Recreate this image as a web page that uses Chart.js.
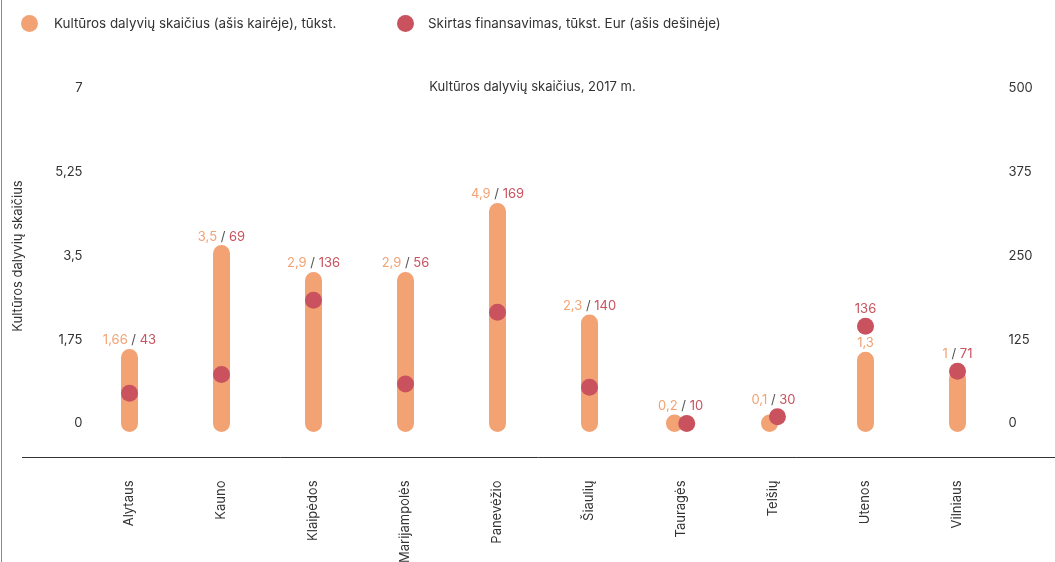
<!DOCTYPE html>
<html>
<head>
<meta charset="utf-8">
<script src="https://cdn.jsdelivr.net/npm/chart.js@4.4.1/dist/chart.umd.min.js"></script>
<style>
html,body{margin:0;padding:0;background:#ffffff;}
#wrap{position:relative;width:1055px;height:562px;}
</style>
</head>
<body>
<div id="wrap"><canvas id="c" width="1055" height="562"></canvas></div>
<script>
// ---- data ----
const categories = ['Alytaus','Kauno','Klaipėdos','Marijampolės','Panevėžio','Šiaulių','Tauragės','Telšių','Utenos','Vilniaus'];
// bar heights as drawn (thousand participants, left axis)
const participants = [1.38, 3.55, 2.99, 2.99, 4.43, 2.10, 0.01, 0.01, 1.32, 0.94];
// dot positions as drawn (thousand EUR, right axis)
const funding = [45, 73, 184, 59, 166, 54, 0, 10, 145, 78];
// printed value labels
const participantLabels = ['1,66','3,5','2,9','2,9','4,9','2,3','0,2','0,1','1,3','1'];
const fundingLabels = ['43','69','136','56','169','140','10','30','136','71'];
// axis ticks
const leftTicks = [0, 1.75, 3.5, 5.25, 7];
const rightTicks = [0, 125, 250, 375, 500];
// small horizontal dodge (in category units) where bar and dot overlap
const participantShift = [0,0,0,0,0,0,-0.076,-0.043,0,0];
const fundingShift = [0,0,0,0,0,0,0.057,0.043,0,0];

const seriesNames = ['Kultūros dalyvių skaičius (ašis kairėje), tūkst.', 'Skirtas finansavimas, tūkst. Eur (ašis dešinėje)'];
const chartTitle = 'Kultūros dalyvių skaičius, 2017 m.';
const leftAxisTitle = 'Kultūros dalyvių skaičius';

const ORANGE = '#F2A273';
const RED = '#C9525E';
const TEXT = '#333333';
const FONT = 'Inter';
const BAR_W = 17;
const DOT_R = 8.5;

Chart.defaults.font.family = FONT;
Chart.defaults.font.size = 13;
Chart.defaults.color = TEXT;

const barPoints = [];
participants.forEach((v, i) => {
  const x = i + participantShift[i];
  barPoints.push({x: x, y: 0}, {x: x, y: v}, {x: x, y: null});
});
const dotPoints = funding.map((v, i) => ({x: i + fundingShift[i], y: v}));

const fmt = v => String(v).replace('.', ',');

const decor = {
  id: 'decor',
  beforeDraw(chart) {
    const ctx = chart.ctx;
    ctx.save();
    ctx.fillStyle = '#8a8a8a';
    ctx.fillRect(1, 0, 1, chart.height);
    ctx.restore();
  },
  afterDatasetsDraw(chart) {
    const ctx = chart.ctx;
    const xs = chart.scales.xv, ys = chart.scales.y, ys1 = chart.scales.y1;
    ctx.save();
    ctx.font = '13px ' + FONT;
    ctx.textBaseline = 'middle';
    ctx.textAlign = 'left';
    const gap = 8.5;
    const drawParts = (parts, cx, cy) => {
      const widths = parts.map(p => ctx.measureText(p[0]).width);
      const total = widths.reduce((a, b) => a + b, 0);
      let x = cx - total / 2;
      parts.forEach((p, k) => { ctx.fillStyle = p[1]; ctx.fillText(p[0], x, cy); x += widths[k]; });
    };
    categories.forEach((c, i) => {
      const bx = xs.getPixelForValue(i + participantShift[i]);
      const dx = xs.getPixelForValue(i + fundingShift[i]);
      const barTop = ys.getPixelForValue(participants[i]) - BAR_W / 2;
      const dy = ys1.getPixelForValue(funding[i]);
      const dotTop = dy - DOT_R, dotBottom = dy + DOT_R;
      if (dotBottom < barTop - 4) {
        drawParts([[fundingLabels[i], RED]], dx, dotTop - gap);
        drawParts([[participantLabels[i], ORANGE]], bx, barTop - gap);
      } else {
        const top = Math.min(barTop, dotTop);
        drawParts([[participantLabels[i], ORANGE], [' / ', '#555555'], [fundingLabels[i], RED]], (bx + dx) / 2, top - gap);
      }
    });
    ctx.restore();
  },
  afterDraw(chart) {
    const ctx = chart.ctx;
    const ca = chart.chartArea;
    ctx.save();
    // baseline
    ctx.strokeStyle = '#333333';
    ctx.lineWidth = 1;
    ctx.beginPath();
    ctx.moveTo(22, Math.round(ca.bottom + 33.5) + 0.5);
    ctx.lineTo(chart.width, Math.round(ca.bottom + 33.5) + 0.5);
    ctx.stroke();
    // legend
    const items = [
      {text: seriesNames[0], color: ORANGE, cx: 29.5, tx: 54},
      {text: seriesNames[1], color: RED, cx: 405.5, tx: 428}
    ];
    const ly = 23.5;
    ctx.font = '13.4px ' + FONT;
    ctx.textBaseline = 'middle';
    ctx.textAlign = 'left';
    items.forEach(it => {
      ctx.fillStyle = it.color;
      ctx.beginPath();
      ctx.arc(it.cx, ly, 8.5, 0, Math.PI * 2);
      ctx.fill();
      ctx.fillStyle = TEXT;
      ctx.fillText(it.text, it.tx, ly);
    });
    ctx.restore();
  }
};

new Chart(document.getElementById('c'), {
  type: 'line',
  data: {
    labels: categories,
    datasets: [
      {
        label: seriesNames[1],
        data: dotPoints,
        xAxisID: 'xv',
        yAxisID: 'y1',
        showLine: false,
        pointRadius: DOT_R,
        pointHoverRadius: DOT_R,
        pointBackgroundColor: RED,
        pointBorderWidth: 0,
        pointBorderColor: RED,
        backgroundColor: RED,
        borderColor: RED,
        clip: false,
        order: 0
      },
      {
        label: seriesNames[0],
        data: barPoints,
        xAxisID: 'xv',
        yAxisID: 'y',
        borderColor: ORANGE,
        backgroundColor: ORANGE,
        borderWidth: BAR_W,
        borderCapStyle: 'round',
        borderJoinStyle: 'round',
        pointRadius: 0,
        pointHoverRadius: 0,
        spanGaps: false,
        fill: false,
        tension: 0,
        clip: false,
        order: 1
      }
    ]
  },
  options: {
    responsive: false,
    animation: false,
    events: [],
    layout: {padding: {left: 10, right: 0, top: 0, bottom: 0}},
    plugins: {
      legend: {display: false},
      tooltip: {enabled: false},
      title: {
        display: true,
        text: chartTitle,
        color: TEXT,
        font: {size: 13, weight: 'normal', family: FONT},
        padding: {top: 79.5, bottom: -6.6}
      }
    },
    scales: {
      x: {
        type: 'category',
        position: 'bottom',
        offset: true,
        grid: {display: false, drawTicks: false},
        border: {display: false},
        ticks: {minRotation: 90, maxRotation: 90, autoSkip: false, padding: 57, color: TEXT, font: {size: 13}},
        afterFit: s => { s.height = 138.5; }
      },
      xv: {
        type: 'linear',
        display: false,
        min: -0.5,
        max: 9.5
      },
      y: {
        type: 'linear',
        position: 'left',
        min: 0,
        max: 7,
        afterBuildTicks: s => { s.ticks = leftTicks.map(v => ({value: v})); },
        grid: {display: false, drawTicks: false},
        border: {display: false},
        ticks: {callback: v => fmt(v), padding: 1, labelOffset: 0, color: TEXT, font: {size: 13}},
        title: {display: true, text: leftAxisTitle, color: TEXT, font: {size: 13}, padding: {top: 0.2, bottom: 0}},
        afterFit: s => { s.width = 73.5; }
      },
      y1: {
        type: 'linear',
        position: 'right',
        min: 0,
        max: 500,
        afterBuildTicks: s => { s.ticks = rightTicks.map(v => ({value: v})); },
        grid: {display: false, drawTicks: false},
        border: {display: false},
        ticks: {callback: v => fmt(v), padding: 5, labelOffset: 0, color: TEXT, font: {size: 13}},
        afterFit: s => { s.width = 51.5; }
      }
    }
  },
  plugins: [decor]
});
</script>
</body>
</html>
